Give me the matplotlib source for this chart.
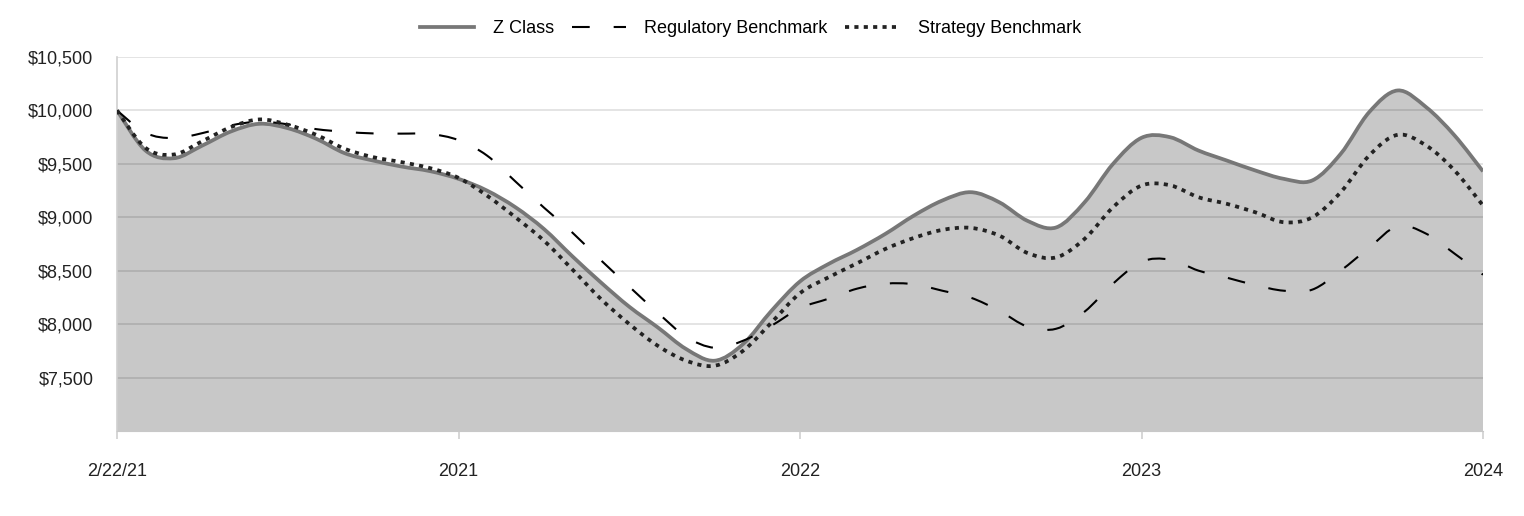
import matplotlib
matplotlib.use("Agg")
import matplotlib.pyplot as plt
from matplotlib.path import Path
from matplotlib.patches import PathPatch
from matplotlib.lines import Line2D
from matplotlib.ticker import FuncFormatter

plt.rcParams['font.family'] = ['Liberation Sans', 'DejaVu Sans']

# values, one per month-sized step along the x axis
z_class = [10000, 9625, 9553, 9672, 9803, 9875, 9834, 9735, 9600, 9531,
           9475, 9432, 9360, 9250, 9094, 8891, 8635, 8391, 8163, 7970,
           7767, 7658, 7814, 8126, 8400, 8563, 8695, 8845, 9016, 9157,
           9235, 9141, 8966, 8905, 9141, 9500, 9744, 9750, 9625, 9531,
           9438, 9360, 9345, 9594, 9984, 10187, 10031, 9766, 9430]
regulatory = [10000, 9790, 9741, 9788, 9860, 9895, 9870, 9825, 9800, 9785,
              9783, 9780, 9722, 9578, 9335, 9091, 8857, 8599, 8351, 8107,
              7882, 7779, 7845, 7986, 8150, 8238, 8332, 8379, 8374, 8313,
              8248, 8126, 7976, 7957, 8117, 8379, 8585, 8604, 8501, 8435,
              8365, 8313, 8323, 8501, 8716, 8918, 8847, 8660, 8463]
strategy = [10000, 9650, 9588, 9713, 9844, 9916, 9866, 9772, 9641, 9563,
            9516, 9460, 9369, 9203, 9000, 8782, 8512, 8236, 8001, 7798,
            7658, 7611, 7751, 8016, 8290, 8438, 8569, 8704, 8807, 8882,
            8901, 8829, 8665, 8625, 8798, 9094, 9297, 9300, 9188, 9126,
            9047, 8954, 9000, 9235, 9578, 9772, 9672, 9438, 9110]
x = list(range(len(z_class)))

tick_pos = [0, 12, 24, 36, 48]
tick_labels = ['2/22/21', '2021', '2022', '2023', '2024']
y_ticks = [7500, 8000, 8500, 9000, 9500, 10000, 10500]


def smooth_path(xs, ys, base=None):
    # Catmull-Rom style bezier through the points, like a smoothed line
    n = len(xs)
    verts = [(xs[0], ys[0])]
    codes = [Path.MOVETO]
    for i in range(n - 1):
        i0, i2 = max(i - 1, 0), min(i + 2, n - 1)
        c1 = (xs[i] + (xs[i + 1] - xs[i0]) / 6, ys[i] + (ys[i + 1] - ys[i0]) / 6)
        c2 = (xs[i + 1] - (xs[i2] - xs[i]) / 6, ys[i + 1] - (ys[i2] - ys[i]) / 6)
        verts += [c1, c2, (xs[i + 1], ys[i + 1])]
        codes += [Path.CURVE4] * 3
    if base is not None:
        verts += [(xs[-1], base), (xs[0], base), (xs[0], ys[0])]
        codes += [Path.LINETO, Path.LINETO, Path.CLOSEPOLY]
    return Path(verts, codes)


fig = plt.figure(figsize=(15.24, 5.16), dpi=100)
ax = fig.add_axes([0.0768, 0.1647, 0.8963, 0.7248])

ax.add_patch(PathPatch(smooth_path(x, z_class, 7000), facecolor='#c8c8c8',
                       edgecolor='none', zorder=1))
for v in y_ticks:
    ax.axhline(v, color='black', alpha=0.11, lw=1.4, zorder=2)

z_style = dict(color='#777777', lw=2.7)
reg_style = dict(color='black', lw=1.5, dashes=(8.5, 11.5))
strat_style = dict(color='#222222', lw=2.7, dashes=(1.1, 1.4))

ax.add_patch(PathPatch(smooth_path(x, z_class), fill=False, edgecolor=z_style['color'],
                       lw=z_style['lw'], zorder=3))
ax.add_patch(PathPatch(smooth_path(x, regulatory), fill=False, edgecolor='black',
                       lw=1.5, linestyle=(0, (8.5, 11.5)), zorder=4))
ax.add_patch(PathPatch(smooth_path(x, strategy), fill=False, edgecolor='#222222',
                       lw=2.7, linestyle=(0, (1.1, 1.4)), zorder=5))

ax.set_xlim(0, 48)
ax.set_ylim(7000, 10500)
ax.set_yticks(y_ticks)
ax.yaxis.set_major_formatter(FuncFormatter(lambda v, p: '${:,.0f}'.format(v)))
ax.set_xticks(tick_pos)
ax.set_xticklabels(tick_labels)

for s in ['top', 'right']:
    ax.spines[s].set_visible(False)
ax.spines['left'].set_color('#d0d0d0')
ax.spines['left'].set_linewidth(1.2)
ax.spines['bottom'].set_color('#c8c8c8')
ax.tick_params(axis='y', length=0, pad=17, labelsize=13, labelcolor='#222222')
ax.tick_params(axis='x', length=6, color='#d0d0d0', width=1.2, pad=17,
               labelsize=13, labelcolor='#222222')

handles = [Line2D([], [], **z_style), Line2D([], [], **reg_style),
           Line2D([], [], **strat_style)]
labels = ['Z Class', 'Regulatory Benchmark', 'Strategy Benchmark']
fig.legend(handles, labels, loc='center', bbox_to_anchor=(0.4925, 0.945), ncol=3,
           frameon=False, fontsize=13, handlelength=3.0, handletextpad=1.0,
           columnspacing=1.0)

fig.savefig('out.png', dpi=100)
